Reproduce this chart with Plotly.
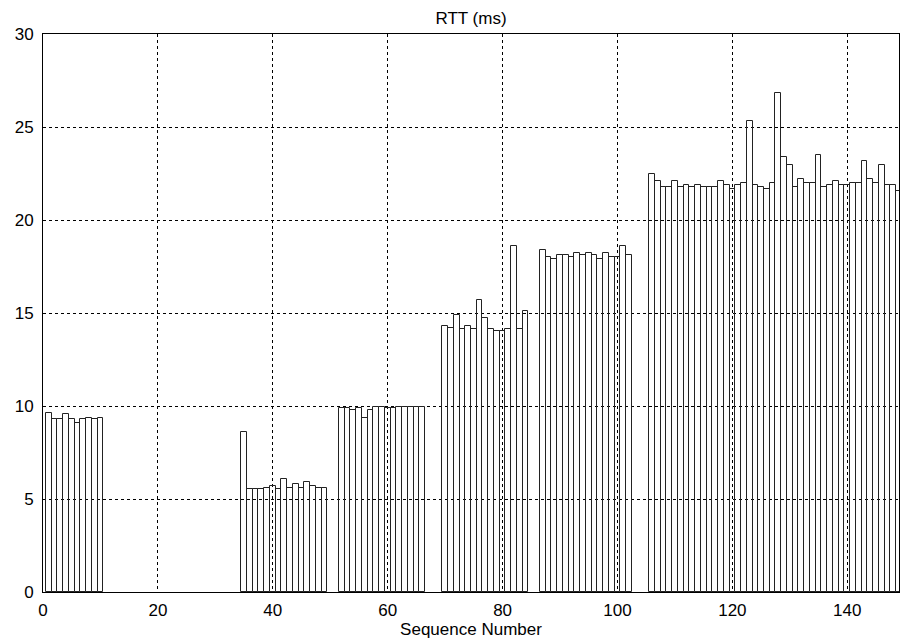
import plotly.graph_objects as go

# Sequence numbers (groups of received packets)
seq_g1 = list(range(1, 11))
rtt_g1 = [9.65, 9.28, 9.28, 9.55, 9.28, 9.08, 9.28, 9.38, 9.30, 9.38]

seq_g2 = list(range(35, 50))
rtt_g2 = [8.58, 5.52, 5.52, 5.52, 5.60, 5.70, 5.52, 6.10, 5.60, 5.80,
          5.60, 5.90, 5.70, 5.60, 5.60]

seq_g3 = list(range(52, 67))
rtt_g3 = [9.87, 9.87, 9.78, 9.87, 9.37, 9.78, 9.96, 9.96, 9.87, 9.87,
          9.96, 9.96, 9.96, 9.96, 9.96]

seq_g4 = list(range(70, 85))
rtt_g4 = [14.30, 14.21, 14.89, 14.12, 14.30, 14.12, 15.70, 14.71, 14.12, 14.03,
          14.03, 14.12, 18.60, 14.12, 15.11]

seq_g5 = list(range(87, 103))
rtt_g5 = [18.39, 17.99, 17.88, 18.10, 18.10, 17.99, 18.21, 18.10, 18.21, 18.10,
          17.88, 18.21, 17.99, 17.99, 18.60, 18.10]

seq_g6 = list(range(106, 150))
rtt_g6 = [22.47, 22.08, 21.79, 21.79, 22.08, 21.79, 21.88, 21.79, 21.88, 21.79,
          21.79, 21.79, 22.08, 21.88, 21.67, 21.88, 21.97, 25.30, 21.88, 21.79,
          21.67, 21.97, 26.81, 23.40, 22.96, 21.76, 22.22, 21.97, 21.97, 23.51,
          21.76, 21.86, 22.08, 21.86, 21.86, 21.97, 21.97, 23.17, 22.22, 21.97,
          22.96, 21.86, 21.86, 21.57]

seq = seq_g1 + seq_g2 + seq_g3 + seq_g4 + seq_g5 + seq_g6
rtt = rtt_g1 + rtt_g2 + rtt_g3 + rtt_g4 + rtt_g5 + rtt_g6

x_ticks = [0, 20, 40, 60, 80, 100, 120, 140]
y_ticks = [0, 5, 10, 15, 20, 25, 30]

FONT = "Liberation Sans, Arial, Helvetica, sans-serif"

W, H = 900, 642

fig = go.Figure()
fig.add_trace(go.Bar(
    x=seq, y=rtt, width=1,
    marker=dict(color="rgba(255,255,255,0)", line=dict(color="#222222", width=1)),
    showlegend=False,
))

fig.update_layout(
    width=W, height=H,
    margin=dict(l=43, r=1, t=34, b=50),
    paper_bgcolor="white", plot_bgcolor="white",
    font=dict(family=FONT, size=17, color="black"),
    title=dict(text="RTT (ms)", x=0.5, xref="paper", xanchor="center",
               y=1 - 18 / H, yref="container", yanchor="middle",
               font=dict(family=FONT, size=17, color="black")),
    bargap=0,
)
fig.update_xaxes(
    range=[0, 149], tickvals=x_ticks, ticktext=[str(v) for v in x_ticks],
    showgrid=True, gridcolor="black", griddash="dot", gridwidth=1,
    showline=True, linecolor="black", linewidth=1, mirror=True,
    zeroline=False, ticks="", ticklabelstandoff=3, automargin=False,
    title=dict(text="Sequence Number", standoff=0,
               font=dict(family=FONT, size=17, color="black")),
)
fig.update_yaxes(
    range=[0, 30], tickvals=y_ticks, ticktext=[str(v) for v in y_ticks],
    showgrid=True, gridcolor="black", griddash="dot", gridwidth=1,
    showline=True, linecolor="black", linewidth=1, mirror=True,
    zeroline=False, ticks="", ticklabelstandoff=5, automargin=False,
)

# remove the browser's default 8px page margin so the 900x642 figure
# fills the window exactly; hide the mode bar
fig.write_html(
    "out.html",
    config={"displayModeBar": False},
    post_script="document.body.style.margin='0';document.body.style.overflow='hidden';",
)
